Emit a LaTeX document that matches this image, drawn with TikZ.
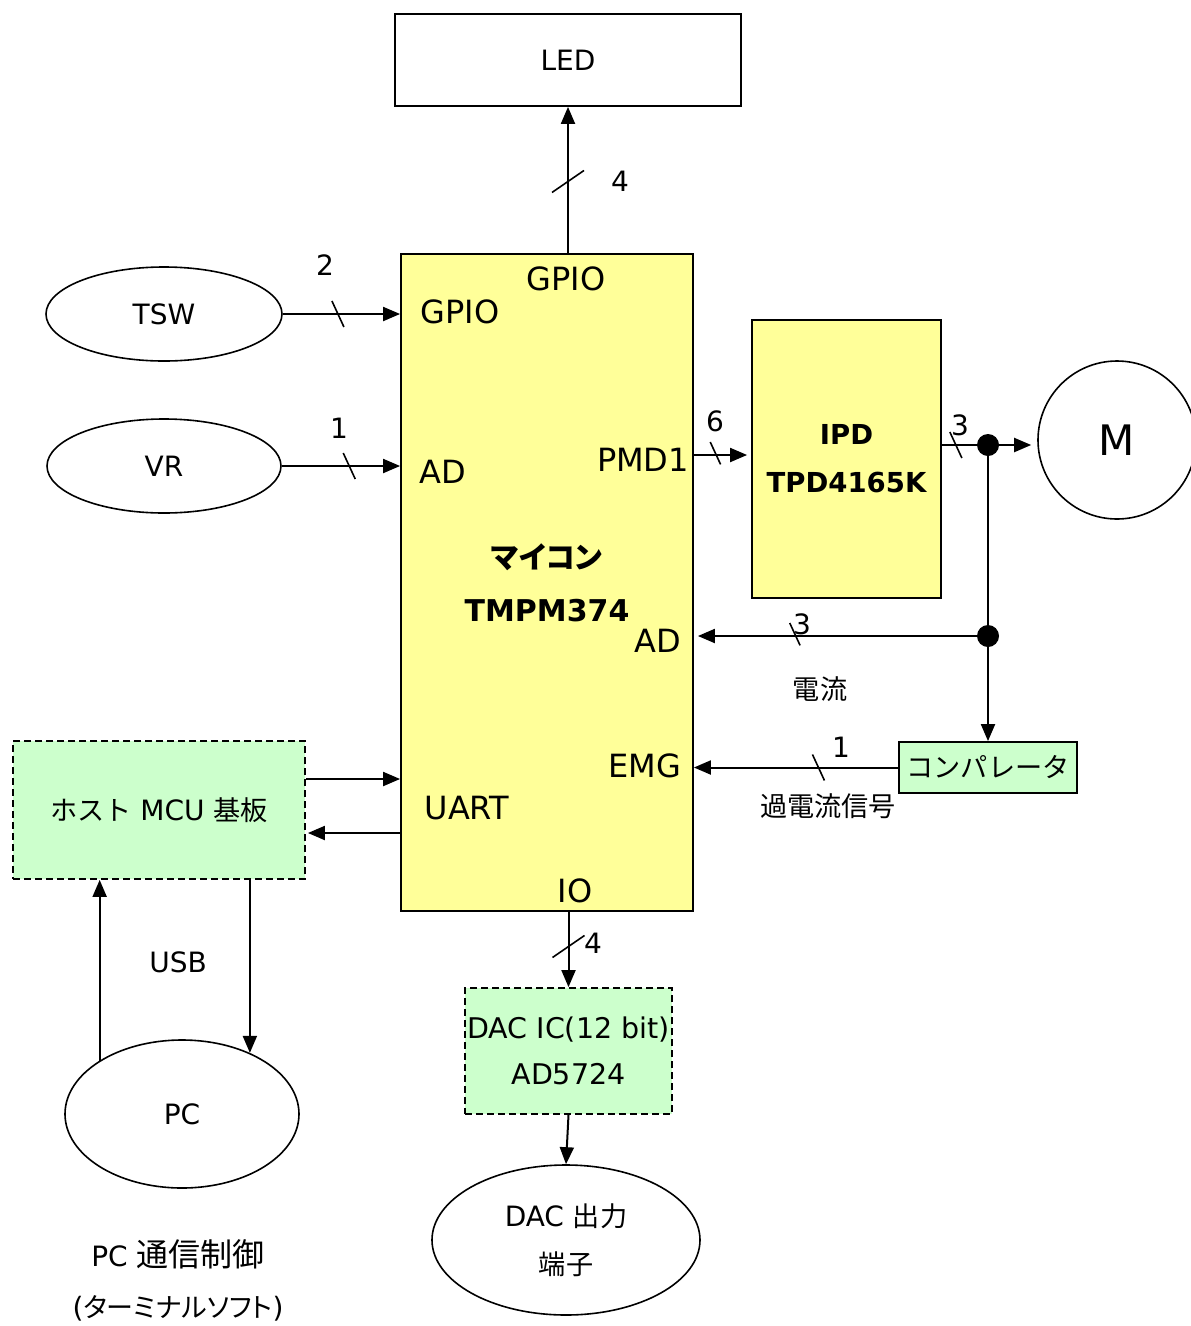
\documentclass[tikz,border=0pt]{standalone}
\usepackage{fontspec}
\setmainfont{DejaVu Sans}
\newfontfamily\jpfont[Scale=0.97]{Noto Sans CJK JP}
\newfontfamily\jppfont[RawFeature=+palt]{Noto Sans CJK JP}
\usetikzlibrary{arrows.meta,shapes.geometric}

\definecolor{mcuyellow}{HTML}{FFFF99}
\definecolor{boardgreen}{HTML}{CCFFCC}

\tikzset{
  txt/.style={font=\fontsize{28}{33}\selectfont},
  port/.style={font=\fontsize{32}{38}\selectfont},
  blk/.style={draw, line width=1.8pt, inner sep=1pt, align=center},
  yellowbox/.style={blk, fill=mcuyellow},
  greenbox/.style={blk, fill=boardgreen},
  dashbox/.style={greenbox, dash pattern=on 7pt off 4pt},
  oval/.style={draw, ellipse, line width=1.6pt, inner sep=2pt},
  dot/.style={circle, fill, inner sep=0pt, minimum size=22pt},
  line/.style={line width=2pt},
  arr/.style={line width=2pt, -{Triangle[length=17pt,width=14pt]}},
  hbus/.pic={\draw[-, line width=1.6pt] (-6,-13) -- (6,13);},
  vbus/.pic={\draw[-, line width=1.6pt] (-16,11) -- (16,-11);}
}

\begin{document}
\begin{tikzpicture}[x=1pt, y=-1pt, every node/.style={txt}]
  \useasboundingbox (0,0) rectangle (1191,1326);

  % blocks
  \node[yellowbox, minimum width=292pt, minimum height=657pt,
        font=\bfseries\fontsize{30}{53}\selectfont] (mcu) at (547,582.5)
        {{\jppfont\fontsize{30}{53}\selectfont マイコン}\\TMPM374};
  \node[blk, minimum width=346pt, minimum height=92pt] (led) at (568,60) {LED};
  \node[yellowbox, minimum width=189pt, minimum height=278pt,
        font=\bfseries\fontsize{27.5}{48}\selectfont] (ipd) at (846.5,459)
        {IPD\\TPD4165K};
  \node[oval, minimum width=236pt, minimum height=94pt] (tsw) at (164,314) {TSW};
  \node[oval, minimum width=234pt, minimum height=94pt] (vr) at (164,466) {VR};
  \node[draw, circle, line width=1.6pt, minimum size=158pt,
        font=\fontsize{42}{50}\selectfont] (motor) at (1117,440) {M};
  \node[greenbox, minimum width=178pt, minimum height=51pt] (cmp) at (988,767.5)
        {\jpfont コンパレータ};
  \node[dashbox, minimum width=292pt, minimum height=138pt] (host) at (159,810)
        {{\jpfont ホスト} MCU {\jpfont 基板}};
  \node[oval, minimum width=234pt, minimum height=148pt] (pc) at (182,1114) {PC};
  \node[dashbox, minimum width=207pt, minimum height=126pt,
        font=\fontsize{28.5}{46}\selectfont] (dac) at (568.5,1051)
        {DAC IC(12 bit)\\AD5724};
  \node[oval, minimum width=268pt, minimum height=150pt, align=center,
        font=\fontsize{28}{48}\selectfont] (dacout) at (566,1240)
        {DAC {\jpfont 出力}\\{\jpfont 端子}};

  % ports of the MCU
  \node[port] (p-gpio1) at (566,279) {GPIO};
  \node[port] (p-gpio2) at (460,312) {GPIO};
  \node[port] (p-ad1) at (443,472) {AD};
  \node[port] (p-pmd) at (643,460) {PMD1};
  \node[port] (p-ad2) at (658,641) {AD};
  \node[port] (p-emg) at (645,766) {EMG};
  \node[port] (p-uart) at (467,808) {UART};
  \node[port] (p-io) at (575,891) {IO};

  % junctions
  \node[dot] (j1) at (988,445) {};
  \node[dot] (j2) at (988,636) {};

  % connectors
  \draw[arr] (mcu.north -| led.south) -- (led.south) pic[pos=.49]{vbus};
  \draw[arr] (tsw.east) -- (tsw.east -| mcu.west) pic[pos=.47]{hbus};
  \draw[arr] (vr.east) -- (vr.east -| mcu.west) pic[pos=.57]{hbus};
  \coordinate (pmd) at (693,455);
  \draw[arr, shorten >=4pt] (pmd) -- (pmd -| ipd.west) pic[pos=.4]{hbus};
  \draw[line] (ipd.east |- j1) -- (j1) pic[pos=.4]{hbus};
  \draw[arr, shorten >=6pt] (j1) -- (j1 -| motor.west);
  \draw[line] (j1) -- (j2);
  \draw[arr] (j2) -- (cmp.north);
  \draw[arr, shorten >=4pt] (j2) -- (j2 -| mcu.east) pic[pos=.64]{hbus};
  \draw[arr] (cmp.west) -- (cmp.west -| mcu.east) pic[pos=.39]{hbus};
  \draw[arr] ([yshift=31pt]host.east) -- ([yshift=31pt]host.east -| mcu.west);
  \draw[arr, shorten >=2pt] ([yshift=-23pt]host.east -| mcu.west) -- ([yshift=-23pt]host.east);
  \draw[arr] (pc.147) -- (pc.147 |- host.south);
  \draw[arr] (pc.42 |- host.south) -- (pc.42);
  \draw[arr] (mcu.south -| dac.north) -- (dac.north) pic[pos=.46]{vbus};
  \draw[arr] (dac.south) -- (dacout.north);

  % bus widths
  \node (n-led) at (620,181) {4};
  \node (n-tsw) at (325,265) {2};
  \node (n-vr) at (339,428) {1};
  \node (n-pmd) at (715,421) {6};
  \node (n-ipd) at (960,425) {3};
  \node (n-cur) at (802,624) {3};
  \node (n-emg) at (841,747) {1};
  \node (n-io) at (593,943) {4};

  % captions
  \node (t-cur) at (820,689) {\jpfont 電流};
  \node (t-oc) at (828,806) {\jpfont 過電流信号};
  \node (t-usb) at (178,962) {USB};
  \node[align=center, font=\fontsize{28}{51}\selectfont] (t-pc) at (178,1280)
        {PC {\jpfont\fontsize{33}{51}\selectfont 通信制御}\\
         ({\jppfont\fontsize{27}{51}\selectfont ターミナルソフト})};
\end{tikzpicture}
\end{document}
